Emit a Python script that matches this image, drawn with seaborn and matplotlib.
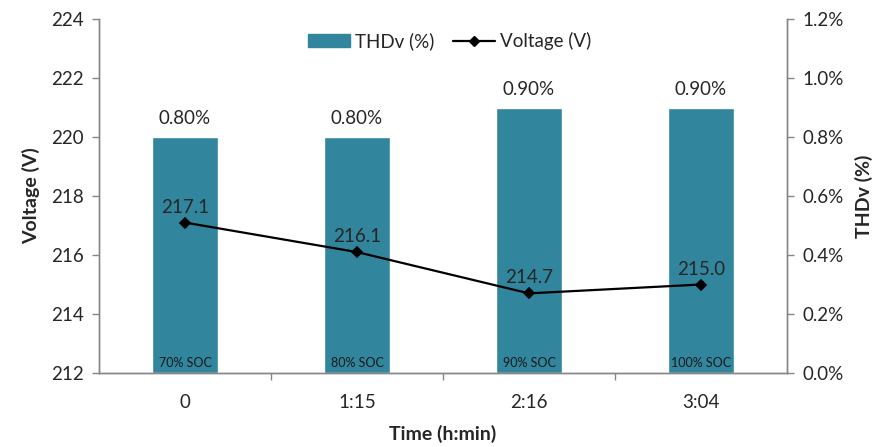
import matplotlib
matplotlib.use("Agg")
import matplotlib.pyplot as plt
import seaborn as sns
import pandas as pd
from matplotlib.ticker import FuncFormatter, FixedLocator
from matplotlib.lines import Line2D
from matplotlib.patches import Patch

times = ["0", "1:15", "2:16", "3:04"]
thdv = [0.80, 0.80, 0.90, 0.90]
voltage = [217.1, 216.1, 214.7, 215.0]
soc = ["70% SOC", "80% SOC", "90% SOC", "100% SOC"]

df = pd.DataFrame({"time": times, "thdv": thdv, "voltage": voltage, "soc": soc})

sns.set_theme(style="white")
plt.rcParams["font.family"] = ["Lato", "DejaVu Sans"]

BAR = "#31859C"
GRAY = "#868686"

fig = plt.figure(figsize=(8.86, 4.47), dpi=100)
ax = fig.add_axes([0.1117, 0.1655, 0.7765, 0.792])
ax2 = ax.twinx()

sns.barplot(data=df, x="time", y="thdv", order=times, color=BAR, width=0.385,
            saturation=1, ax=ax2, zorder=1)
sns.pointplot(data=df, x="time", y="voltage", order=times, color="black",
              markers="D", markersize=5, linewidth=1.6, ax=ax, zorder=3)

ax.set_zorder(2)
ax.patch.set_visible(False)
ax2.set_zorder(1)

ax.set_xlim(-0.5, 3.5)
ax.set_ylim(212, 224)
ax.set_yticks(range(212, 225, 2))
ax2.set_ylim(0, 1.2)
ax2.set_yticks([0, 0.2, 0.4, 0.6, 0.8, 1.0, 1.2])
ax2.yaxis.set_major_formatter(FuncFormatter(lambda v, p: f"{v:.1f}%"))

# x ticks: labels at centers, tick marks at category boundaries
for a in (ax, ax2):
    a.tick_params(axis="x", which="major", length=0, pad=15)
    a.xaxis.set_minor_locator(FixedLocator([0.5, 1.5, 2.5]))
    a.tick_params(axis="x", which="minor", length=5, width=1, color=GRAY, direction="out", bottom=True)
ax.set_xticks(range(len(times)))
ax.set_xticklabels(times, fontsize=13.5)

ax.tick_params(axis="y", which="major", length=5, width=1, color=GRAY, direction="out", left=True, labelsize=13.5, pad=6)
ax2.tick_params(axis="y", which="major", length=5, width=1, color=GRAY, direction="out", right=True, labelsize=13.5, pad=6)

for a in (ax, ax2):
    a.spines["top"].set_visible(False)
    for s in ("left", "right", "bottom"):
        a.spines[s].set_color(GRAY)
        a.spines[s].set_linewidth(1)

ax.set_xlabel("Time (h:min)", fontsize=14, fontweight="bold", labelpad=10)
ax.set_ylabel("Voltage (V)", fontsize=14, fontweight="bold", labelpad=8)
ax2.set_ylabel("THDv (%)", fontsize=14, fontweight="bold", labelpad=8, rotation=90)
ax2.set_xlabel("")

# bar value labels
for i, v in enumerate(thdv):
    ax2.annotate(f"{v:.2f}%", (i, v), xytext=(0, 7), textcoords="offset points",
                 ha="center", va="bottom", fontsize=13.5)
    ax2.annotate(soc[i], (i, 0), xytext=(0, 3), textcoords="offset points",
                 ha="center", va="bottom", fontsize=9, color="#1a1a1a")

# voltage labels
for i, v in enumerate(voltage):
    ax.annotate(f"{v:.1f}", (i, v), xytext=(0, 5), textcoords="offset points",
                ha="center", va="bottom", fontsize=13.5)

handles = [Patch(facecolor=BAR, edgecolor=BAR),
           Line2D([0], [0], color="black", marker="D", markersize=5, linewidth=1.6)]
ax.legend(handles, ["THDv (%)", "Voltage (V)"], loc="upper center",
          bbox_to_anchor=(0.51, 1.01), ncol=2, frameon=False, fontsize=13.5,
          handlelength=2.2, columnspacing=1.0, handletextpad=0.3)

fig.savefig("out.png", dpi=100)
